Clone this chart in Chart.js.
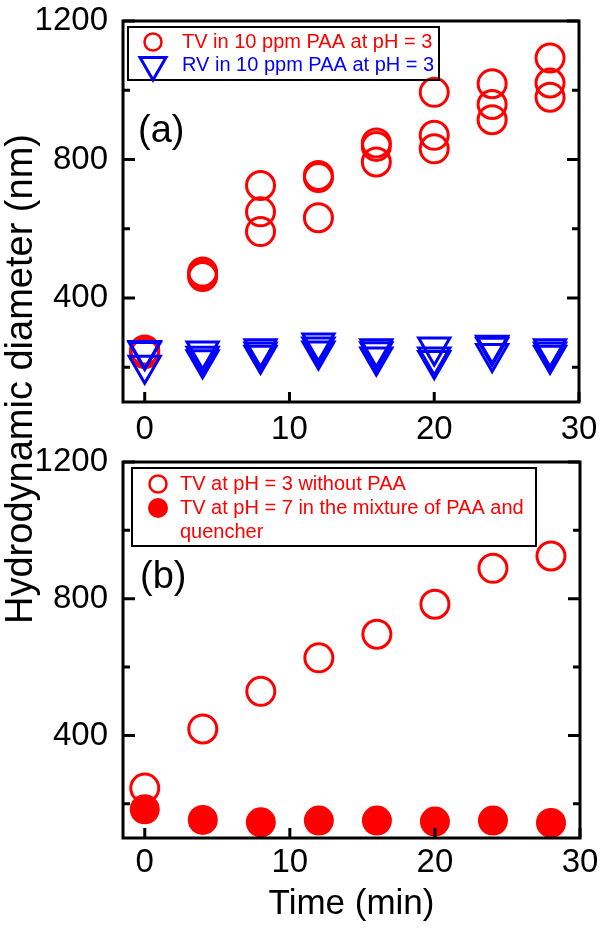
<!DOCTYPE html>
<html>
<head>
<meta charset="utf-8">
<title>Hydrodynamic diameter vs time</title>
<script src="https://cdn.jsdelivr.net/npm/chart.js"></script>
<style>
  html, body { margin: 0; padding: 0; background: #fff; }
  #page { position: relative; width: 600px; height: 930px; overflow: hidden; }
  #chartA { position: absolute; left: 0; top: 0; }
  #chartB { position: absolute; left: 0; top: 445px; }
  #yTitle {
    position: absolute; left: -281px; top: 360px; width: 600px; height: 38px;
    font: 38px "Liberation Sans", Arial, sans-serif; line-height: 38px;
    text-align: center; color: #000; transform: rotate(-90deg); white-space: nowrap;
  }
</style>
</head>
<body>
<div id="page">
  <canvas id="chartA" width="600" height="445"></canvas>
  <canvas id="chartB" width="600" height="485"></canvas>
  <div id="yTitle">Hydrodynamic diameter (nm)</div>
</div>
<script>
// time points (min)
const timeMin = [0, 4, 8, 12, 16, 20, 24, 28];

// (a) three repeats per time point
const tvPaaRun1 = [250, 475, 725, 754, 848, 994, 1019, 1093];
const tvPaaRun2 = [245, 468, 649, 748, 838, 870, 959, 1021];
const tvPaaRun3 = [240, 462, 592, 632, 793, 831, 915, 980];
const rvPaaRun1 = [249, 247, 254, 270, 254, 259, 264, 254];
const rvPaaRun2 = [246, 232, 244, 259, 245, 230, 258, 244];
const rvPaaRun3 = [206, 222, 235, 247, 230, 220, 240, 235];

// (b)
const tvNoPaa = [246, 419, 529, 627, 696, 784, 889, 925];
const tvQuencher = [184, 153, 146, 151, 151, 148, 151, 144];

const xTicks = [0, 10, 20, 30];
const yTicks = [400, 800, 1200];
const yMinorTicks = [200, 600, 1000];

const legendA = ["TV in 10 ppm PAA at pH = 3", "RV in 10 ppm PAA at pH = 3"];
const legendB = [["TV at pH = 3 without PAA"], ["TV at pH = 7 in the mixture of PAA and", "quencher"]];

const RED = "#ff0000";
const BLUE = "#0000ff";
const FONT = "'Liberation Sans', Arial, sans-serif";

Chart.defaults.font.family = FONT;
Chart.defaults.color = "#000";

function pts(ys) {
  return timeMin.map((t, i) => ({ x: t, y: ys[i] }));
}

function openCircle(ys, order) {
  return { data: pts(ys), pointStyle: "circle", pointRadius: 14, pointBorderWidth: 3,
    pointBorderColor: RED, pointBackgroundColor: "rgba(0,0,0,0)", showLine: false, order: order };
}
function triangle(ys, order) {
  return { data: pts(ys), pointStyle: "triangle", pointRotation: 180, pointRadius: 18, pointBorderWidth: 3,
    pointBorderColor: BLUE, pointBackgroundColor: "rgba(0,0,0,0)", showLine: false, order: order };
}

function drawMarker(ctx, kind, x, y) {
  ctx.beginPath();
  if (kind === "tri") {
    const r = 15;
    ctx.moveTo(x, y + r);
    ctx.lineTo(x - r * Math.sin(Math.PI / 3), y - r / 2);
    ctx.lineTo(x + r * Math.sin(Math.PI / 3), y - r / 2);
    ctx.closePath();
    ctx.strokeStyle = BLUE; ctx.lineWidth = 3; ctx.stroke();
  } else if (kind === "dot") {
    ctx.arc(x, y, 10, 0, Math.PI * 2);
    ctx.fillStyle = RED; ctx.fill();
  } else {
    ctx.arc(x, y, 8.5, 0, Math.PI * 2);
    ctx.strokeStyle = RED; ctx.lineWidth = 2.5; ctx.stroke();
  }
}

// frame, inward ticks, panel letter and boxed legend
const panelDeco = {
  id: "panelDeco",
  afterDatasetsDraw(chart, args, o) {
    const { ctx, chartArea: a, scales: { x, y } } = chart;
    ctx.save();
    ctx.strokeStyle = "#000";
    ctx.lineWidth = 3;
    ctx.strokeRect(a.left, a.top, a.right - a.left, a.bottom - a.top);
    ctx.beginPath();
    yTicks.forEach(v => {
      const p = y.getPixelForValue(v);
      ctx.moveTo(a.left, p); ctx.lineTo(a.left + 12, p);
      ctx.moveTo(a.right, p); ctx.lineTo(a.right - 12, p);
    });
    yMinorTicks.forEach(v => {
      const p = y.getPixelForValue(v);
      ctx.moveTo(a.left, p); ctx.lineTo(a.left + 7, p);
      ctx.moveTo(a.right, p); ctx.lineTo(a.right - 7, p);
    });
    xTicks.forEach(v => {
      const p = x.getPixelForValue(v);
      ctx.moveTo(p, a.bottom); ctx.lineTo(p, a.bottom - 10);
    });
    ctx.stroke();

    // panel letter
    ctx.fillStyle = "#000";
    ctx.font = "38px " + FONT;
    ctx.textBaseline = "alphabetic";
    ctx.textAlign = "left";
    ctx.fillText(o.letter, a.left + o.letterAt[0], a.top + o.letterAt[1]);

    // legend box
    const b = o.box;
    ctx.lineWidth = 2;
    ctx.strokeRect(a.left + b[0], a.top + b[1], b[2], b[3]);
    ctx.font = "20px " + FONT;
    ctx.textBaseline = "middle";
    o.items.forEach(it => {
      drawMarker(ctx, it.marker, a.left + o.markerX, a.top + it.y);
      ctx.fillStyle = it.color;
      it.lines.forEach((ln, k) => ctx.fillText(ln, a.left + o.textX, a.top + it.y + k * 24));
    });
    ctx.restore();
  }
};

function makeScales(opts) {
  return {
    x: {
      type: "linear", min: -1.5, max: 30,
      afterBuildTicks: s => { s.ticks = xTicks.map(v => ({ value: v })); },
      afterFit: s => { s.height = opts.xHeight; s.paddingLeft = 0; s.paddingRight = 0; },
      ticks: { font: { size: 33 }, color: "#000", padding: opts.xPad, maxRotation: 0, callback: v => String(v) },
      grid: { display: false, drawTicks: false },
      border: { display: false },
      title: opts.xTitle
    },
    y: {
      type: "linear", min: 100, max: 1200,
      afterBuildTicks: s => { s.ticks = yTicks.map(v => ({ value: v })); },
      afterFit: s => { s.width = 123; s.paddingTop = 0; s.paddingBottom = 0; },
      ticks: { font: { size: 33 }, color: "#000", padding: 15, callback: v => String(v) },
      grid: { display: false, drawTicks: false },
      border: { display: false }
    }
  };
}

new Chart(document.getElementById("chartA"), {
  type: "scatter",
  data: {
    datasets: [
      openCircle(tvPaaRun1, 4), openCircle(tvPaaRun2, 5), openCircle(tvPaaRun3, 6),
      triangle(rvPaaRun1, 1), triangle(rvPaaRun2, 2), triangle(rvPaaRun3, 3)
    ]
  },
  options: {
    responsive: false, animation: false,
    layout: { padding: { top: 16, right: 20, bottom: 0, left: 0 } },
    scales: makeScales({ xHeight: 43, xPad: 8, xTitle: { display: false } }),
    plugins: {
      legend: { display: false }, tooltip: { enabled: false },
      panelDeco: {
        letter: "(a)", letterAt: [15, 121],
        box: [5, 6, 311, 53], markerX: 30, textX: 59,
        items: [
          { marker: "ring", color: RED, y: 21, lines: [legendA[0]] },
          { marker: "tri", color: BLUE, y: 44, lines: [legendA[1]] }
        ]
      }
    }
  },
  plugins: [panelDeco]
});

new Chart(document.getElementById("chartB"), {
  type: "scatter",
  data: {
    datasets: [
      openCircle(tvNoPaa, 2),
      { data: pts(tvQuencher), pointStyle: "circle", pointRadius: 15, pointBorderWidth: 0,
        pointBackgroundColor: RED, pointBorderColor: RED, showLine: false, order: 1 }
    ]
  },
  options: {
    responsive: false, animation: false,
    layout: { padding: { top: 6, right: 20, bottom: 0, left: 0 } },
    scales: makeScales({
      xHeight: 92, xPad: 5,
      xTitle: { display: true, text: "Time (min)", font: { size: 35 }, color: "#000", padding: { top: 0, bottom: 5 } }
    }),
    plugins: {
      legend: { display: false }, tooltip: { enabled: false },
      panelDeco: {
        letter: "(b)", letterAt: [17, 126],
        box: [9, 6, 404, 78], markerX: 35, textX: 57,
        items: [
          { marker: "ring", color: RED, y: 22, lines: legendB[0] },
          { marker: "dot", color: RED, y: 46, lines: legendB[1] }
        ]
      }
    }
  },
  plugins: [panelDeco]
});
</script>
</body>
</html>
